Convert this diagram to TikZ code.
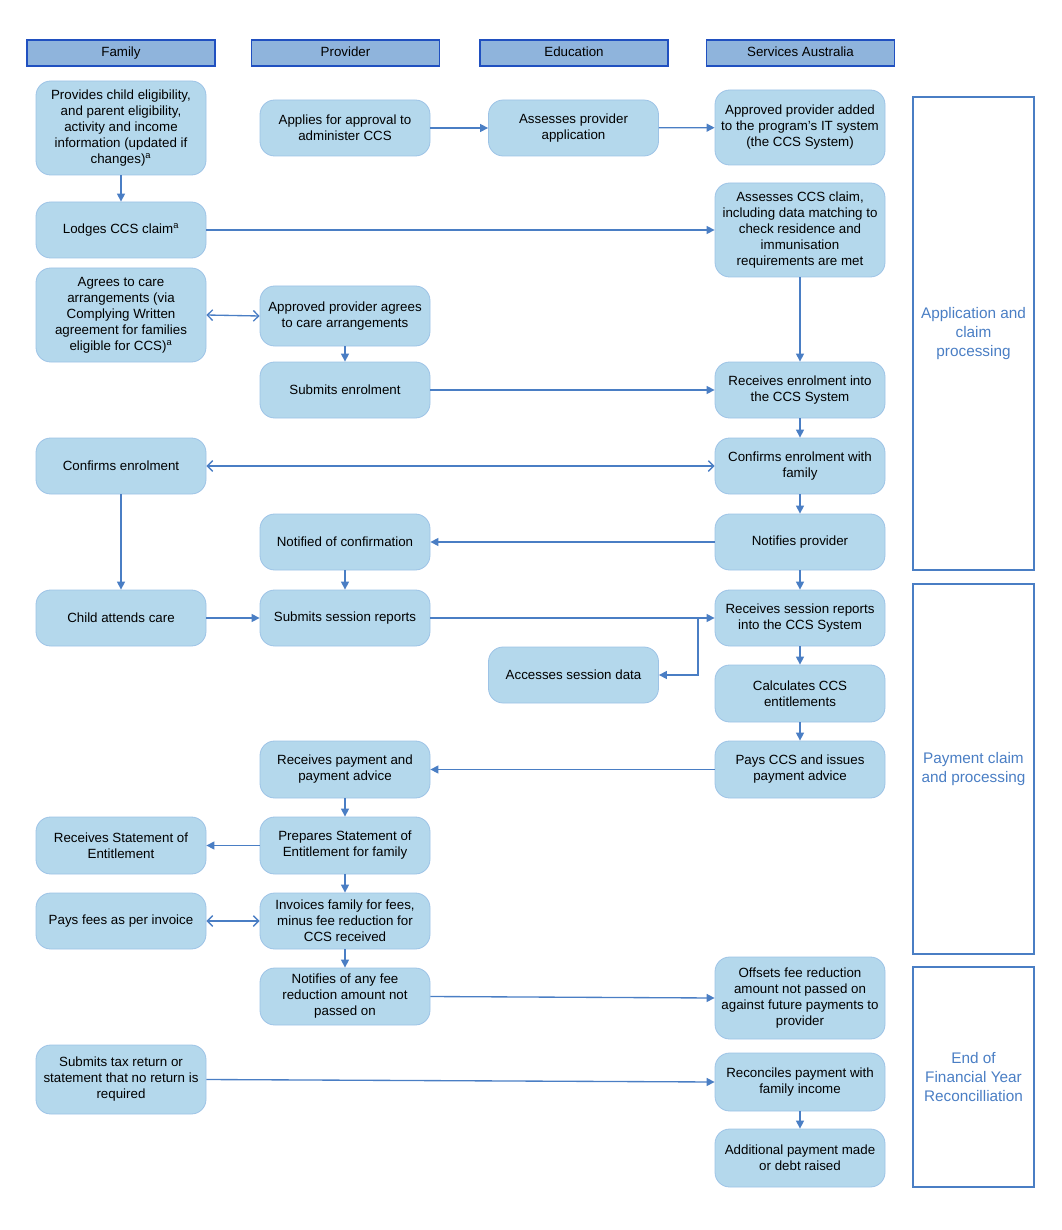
\documentclass[tikz,border=0pt]{standalone}
\usepackage{fontspec}
\setmainfont{Liberation Sans}
\usetikzlibrary{arrows.meta}
\definecolor{boxfill}{HTML}{B4D8EC}
\definecolor{boxline}{HTML}{9DC3E6}
\definecolor{hdrfill}{HTML}{8FB4DC}
\definecolor{hdrline}{HTML}{2050C0}
\definecolor{arr}{HTML}{4A7EC4}
\definecolor{phase}{HTML}{4A7EC4}
\begin{document}
\begin{tikzpicture}[x=0.75pt,y=-0.75pt,
  box/.style={draw=boxline, fill=boxfill, rounded corners=11pt, line width=0.6pt,
    minimum width=127.5pt, align=center, font=\fontsize{10}{12}\selectfont, inner sep=2pt},
  hh/.style={minimum height=#1*0.75pt},
  hdr/.style={draw=hdrline, fill=hdrfill, line width=1.2pt, minimum width=141pt,
    minimum height=19.5pt, font=\fontsize{10}{12}\selectfont, inner sep=0pt},
  phasebox/.style={draw=phase, line width=1pt, minimum width=90.75pt, align=center,
    text=phase, font=\fontsize{11.5}{14.25}\selectfont, inner sep=0pt},
  ar/.style={draw=arr, line width=1pt, -{Triangle[length=6pt,width=6pt]}},
  dar/.style={draw=arr, line width=1pt, {Straight Barb[length=4pt,width=8pt]}-{Straight Barb[length=4pt,width=8pt]}},
  ln/.style={draw=arr, line width=1pt}
]
\useasboundingbox (0,0) rectangle (1061,1230);

% headers
\node[hdr] (hF) at (121,53) {\raisebox{2.25pt}{Family}};
\node[hdr] (hP) at (345.5,53) {\raisebox{2.25pt}{Provider}};
\node[hdr] (hE) at (574,53) {\raisebox{2.25pt}{Education}};
\node[hdr] (hS) at (800.5,53) {\raisebox{2.25pt}{Services Australia}};

% Family column
\node[box,hh=94] (F1) at (121,128) {Provides child eligibility,\\and parent eligibility,\\activity and income\\information (updated if\\changes)\textsuperscript{a}};
\node[box,hh=56] (F2) at (121,230) {Lodges CCS claim\textsuperscript{a}};
\node[box,hh=94] (F3) at (121,315) {Agrees to care\\arrangements (via\\Complying Written\\agreement for families\\eligible for CCS)\textsuperscript{a}};
\node[box,hh=56] (F4) at (121,466) {Confirms enrolment};
\node[box,hh=56] (F5) at (121,618) {Child attends care};
\node[box,hh=57] (F6) at (121,845.5) {Receives Statement of\\Entitlement};
\node[box,hh=56] (F7) at (121,921) {Pays fees as per invoice};
\node[box,hh=69] (F8) at (121,1079.5) {Submits tax return or\\statement that no return is\\required};

% Provider column
\node[box,hh=56] (P1) at (345,128) {Applies for approval to\\administer CCS};
\node[box,hh=60] (P2) at (345,316) {Approved provider agrees\\to care arrangements};
\node[box,hh=56] (P3) at (345,390) {Submits enrolment};
\node[box,hh=56] (P4) at (345,542) {Notified of confirmation};
\node[box,hh=56] (P5) at (345,618) {Submits session reports};
\node[box,hh=57] (P6) at (345,769.5) {Receives payment and\\payment advice};
\node[box,hh=57] (P7) at (345,845.5) {Prepares Statement of\\Entitlement for family};
\node[box,hh=56] (P8) at (345,921) {Invoices family for fees,\\minus fee reduction for\\CCS received};
\node[box,hh=57] (P9) at (345,996.5) {Notifies of any fee\\reduction amount not\\passed on};

% Education column
\node[box,hh=56] (E1) at (573.5,128) {Assesses provider\\application};
\node[box,hh=56] (E2) at (573.5,675) {Accesses session data};

% Services Australia column
\node[box,hh=75] (S1) at (800,127.5) {Approved provider added\\to the program's IT system\\(the CCS System)};
\node[box,hh=94] (S2) at (800,230) {Assesses CCS claim,\\including data matching to\\check residence and\\immunisation\\requirements are met};
\node[box,hh=56] (S3) at (800,390) {Receives enrolment into\\the CCS System};
\node[box,hh=56] (S4) at (800,466) {Confirms enrolment with\\family};
\node[box,hh=56] (S5) at (800,542) {Notifies provider};
\node[box,hh=56] (S6) at (800,618) {Receives session reports\\into the CCS System};
\node[box,hh=57] (S7) at (800,693.5) {Calculates CCS\\entitlements};
\node[box,hh=57] (S8) at (800,769.5) {Pays CCS and issues\\payment advice};
\node[box,hh=82] (S9) at (800,998) {Offsets fee reduction\\amount not passed on\\against future payments to\\provider};
\node[box,hh=58] (S10) at (800,1082) {Reconciles payment with\\family income};
\node[box,hh=58] (S11) at (800,1158) {Additional payment made\\or debt raised};

% phase boxes
\node[phasebox,minimum height=354.75pt] (R1) at (973.5,333.5) {Application and\\claim\\processing};
\node[phasebox,minimum height=277.5pt] (R2) at (973.5,769) {Payment claim\\and processing};
\node[phasebox,minimum height=165pt] (R3) at (973.5,1077) {End of\\Financial Year\\Reconcilliation};

% connectors
\draw[ar] (F1) -- (F2);
\draw[ar] (P1) -- (E1);
\draw[ar] (E1) -- (S1);
\draw[ar] (F2) -- (S2);
\draw[dar] (F3.east) -- (P2.west);
\draw[ar] (P2) -- (P3);
\draw[ar] (S2) -- (S3);
\draw[ar] (P3) -- (S3);
\draw[ar] (S3) -- (S4);
\draw[dar] (F4) -- (S4);
\draw[ar] (S4) -- (S5);
\draw[ar] (S5) -- (P4);
\draw[ar] (F4) -- (F5);
\draw[ar] (P4) -- (P5);
\draw[ar] (S5) -- (S6);
\draw[ar] (F5) -- (P5);
\draw[ar] (P5) -- (S6);
\coordinate (br) at (698,618);
\draw[ar] (br) |- (E2.east);
\draw[ar] (S6) -- (S7);
\draw[ar] (S7) -- (S8);
\draw[ar] (S8) -- (P6);
\draw[ar] (P6) -- (P7);
\draw[ar] (P7) -- (F6);
\draw[ar] (P7) -- (P8);
\draw[dar] (F7) -- (P8);
\draw[ar] (P8) -- (P9);
\draw[ar] (P9.east) -- (S9.west);
\draw[ar] (F8.east) -- (S10.west);
\draw[ar] (S10) -- (S11);
\end{tikzpicture}
\end{document}
